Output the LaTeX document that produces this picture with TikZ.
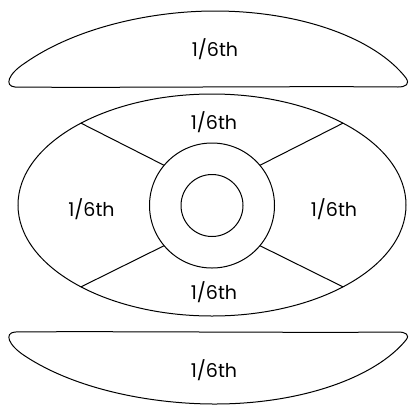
\documentclass[tikz,border=0pt]{standalone}
\usepackage{fontspec}
\setmainfont{Poppins}
\usetikzlibrary{shapes.geometric}
\tikzset{
  outline/.style={draw=black,line width=1pt},
  part/.style={font=\fontsize{19pt}{22pt}\selectfont,text=black,inner sep=0pt},
  disc/.style={outline,ellipse,inner sep=0pt,outer sep=0pt},
  ring/.style={outline,circle,inner sep=0pt,outer sep=0pt}
}
\begin{document}
\begin{tikzpicture}[x=1pt,y=-1pt]
  \useasboundingbox (0,0) rectangle (409,405);
  % top slice
  \draw[outline] (15,87) .. controls (4,86) and (8,74) .. (25,63)
    .. controls (75,28) and (150,11) .. (215,11)
    .. controls (300,11) and (375,38) .. (406,78)
    .. controls (410,84) and (406,87) .. (398,87)
    .. controls (300,86) and (100,88) .. (15,87);
  \node[part] (top) at (215,49) {1/6th};
  % disc with hub
  \node[disc,minimum width=388pt,minimum height=222pt] (plate) at (212,205) {};
  \node[ring,minimum size=125pt] (hub) at (212,205.5) {};
  \node[ring,minimum size=62pt] (hole) at (212,205.5) {};
  \foreach \a/\b in {140/148,40/32,220/212,320/328}
    \draw[outline] (hub.\a) -- (plate.\b);
  \node[part] (upper) at (214,122.5) {1/6th};
  \node[part] (left) at (91.5,209.5) {1/6th};
  \node[part] (right) at (334,209.5) {1/6th};
  \node[part] (lower) at (214,292.5) {1/6th};
  % bottom slice
  \draw[outline] (15,332) .. controls (4,333) and (8,345) .. (25,356)
    .. controls (75,389) and (150,404) .. (215,404)
    .. controls (300,404) and (375,378) .. (406,340)
    .. controls (410,335) and (406,332) .. (398,332)
    .. controls (300,333) and (100,331) .. (15,332);
  \node[part] (bottom) at (214,370.5) {1/6th};
\end{tikzpicture}
\end{document}
